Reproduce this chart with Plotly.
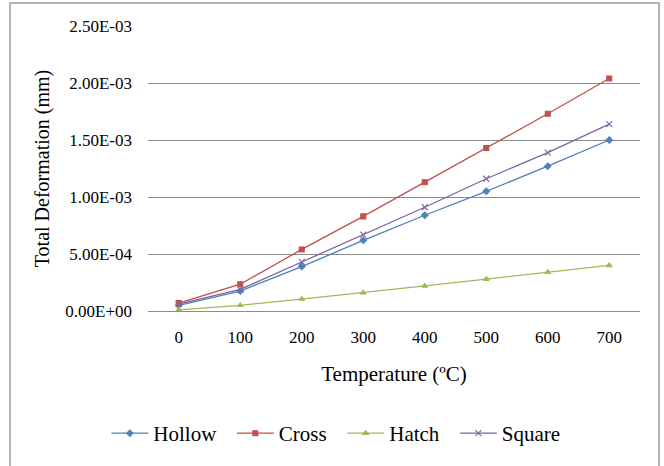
import plotly.graph_objects as go

temperatures = ["0", "100", "200", "300", "400", "500", "600", "700"]
hollow = [5.0e-5, 1.75e-4, 3.9e-4, 6.2e-4, 8.4e-4, 1.05e-3, 1.27e-3, 1.50e-3]
cross = [7.0e-5, 2.35e-4, 5.4e-4, 8.3e-4, 1.13e-3, 1.43e-3, 1.73e-3, 2.04e-3]
hatch = [1.0e-5, 5.0e-5, 1.05e-4, 1.6e-4, 2.2e-4, 2.8e-4, 3.4e-4, 4.0e-4]
square = [6.0e-5, 1.9e-4, 4.3e-4, 6.7e-4, 9.1e-4, 1.16e-3, 1.39e-3, 1.64e-3]
y_ticks = [0, 5e-4, 1e-3, 1.5e-3, 2e-3, 2.5e-3]
y_tick_labels = ["0.00E+00", "5.00E-04", "1.00E-03", "1.50E-03", "2.00E-03", "2.50E-03"]
series_names = ["Hollow", "Cross", "Hatch", "Square"]

styles = [
    ("#4F81BD", "diamond", 5),
    ("#C0504D", "square", 5),
    ("#9BBB59", "triangle-up", 5),
    ("#8064A2", "x-thin", 6),
]

fig = go.Figure()
for name, vals, (color, sym, size) in zip(series_names, [hollow, cross, hatch, square], styles):
    fig.add_trace(go.Scatter(
        x=temperatures, y=vals, name=name + "\u00a0\u00a0", mode="lines+markers",
        line=dict(color=color, width=1.3),
        marker=dict(symbol=sym, size=size, color=color,
                    line=dict(color=color, width=1.1)),
    ))

font_family = "Liberation Serif"
fig.update_layout(
    width=664, height=466,
    margin=dict(l=148, r=24, t=26, b=152),
    paper_bgcolor="white", plot_bgcolor="white",
    font=dict(family=font_family, size=17, color="black"),
    showlegend=True,
    legend=dict(orientation="h", x=0.393, xanchor="center", y=-0.43, yanchor="middle",
                font=dict(size=21, family=font_family), itemwidth=37,
                traceorder="normal"),
    xaxis=dict(
        type="category", range=[-0.5, 7.5], automargin=False,
        showgrid=False, showline=False, zeroline=False,
        ticks="", ticklabelstandoff=14,
        tickfont=dict(size=17, family=font_family),
        title=dict(text="Temperature (ºC)", font=dict(size=21, family=font_family), standoff=20),
    ),
    yaxis=dict(
        range=[0, 2.5e-3], tickvals=y_ticks, ticktext=y_tick_labels, automargin=False,
        showgrid=True, gridcolor="#8c8c8c", gridwidth=1,
        showline=False, zeroline=True, zerolinecolor="#8c8c8c", zerolinewidth=1,
        ticks="", ticklabelstandoff=15,
        tickfont=dict(size=17, family=font_family),
        title=dict(text="Total Deformation (mm)", font=dict(size=20, family=font_family), standoff=10),
    ),
    shapes=[dict(
        type="rect", xref="paper", yref="paper",
        x0=(10 - 148) / 492, x1=(659 - 148) / 492,
        y0=-1.0, y1=(312 - 3) / 286,
        line=dict(color="#b4b4b4", width=2), fillcolor="rgba(0,0,0,0)", layer="below",
    )],
)

fig.write_html("out.html", config={"displayModeBar": False},
               post_script="document.body.style.margin='0px';")
